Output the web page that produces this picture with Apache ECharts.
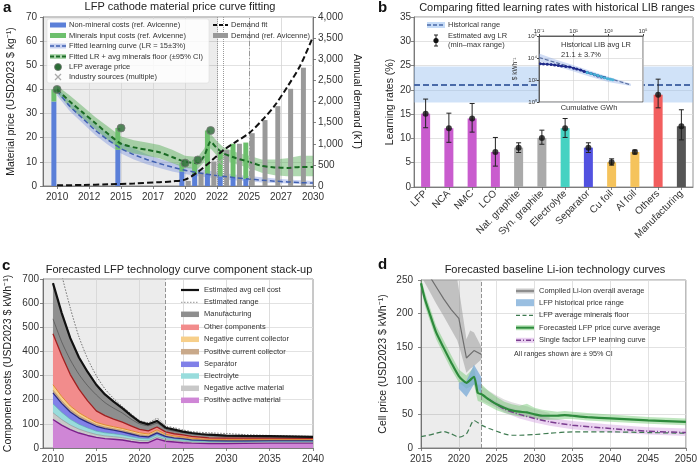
<!DOCTYPE html>
<html><head><meta charset="utf-8">
<script src="https://cdn.jsdelivr.net/npm/echarts@6/dist/echarts.min.js"></script>
<style>html,body{margin:0;padding:0;background:#fff}#c{width:700px;height:464px}</style>
</head><body><div id="c"></div>
<script>
// ================= Panel a =================
const aTicks = [2010, 2012.5, 2015, 2017.5, 2020, 2022.5, 2025, 2027.5, 2030];
const aBarYears = [2010, 2015, 2020, 2021, 2022, 2023, 2024, 2025];
const aNonMineral = [35, 15, 6, 5, 5, 4, 3.5, 3];
const aMinerals = [5, 9, 3.5, 5.8, 18, 10, 14, 15];
const aDemandYears = [2020, 2021, 2022, 2023, 2024, 2025, 2026, 2027, 2028, 2029];
const aDemand = [120, 320, 580, 850, 1000, 1250, 1560, 1890, 2300, 2800];
const aFitYears = [2010, 2011, 2012, 2013, 2014, 2015, 2016, 2017, 2018, 2019, 2020, 2021, 2021.5, 2022, 2022.5, 2023, 2024, 2025, 2026, 2027, 2028, 2029, 2030];
const aBlueFit = [39.5, 33, 28, 23, 19, 15.5, 13, 11, 9.3, 7.8, 6.5, 5.5, 5.1, 4.7, 4.3, 4, 3.4, 2.9, 2.4, 2.0, 1.7, 1.4, 1.2];
const aBlueHi = [41, 35, 30, 25.5, 21.5, 18, 15.5, 13.2, 11.3, 9.6, 8.2, 7, 6.6, 6.2, 5.8, 5.4, 4.7, 4.1, 3.6, 3.1, 2.7, 2.4, 2.1];
const aBlueLo = [37.5, 31, 26, 21, 17, 13.5, 11, 9, 7.5, 6, 5, 4, 3.7, 3.4, 3.1, 2.8, 2.3, 1.9, 1.5, 1.2, 1.0, 0.8, 0.6];
const aGreenFit = [40, 35, 30.5, 26, 21.5, 17.5, 16, 15, 14, 12, 10, 9.4, 12.5, 18.4, 15.6, 13.5, 11.5, 10, 8.3, 7.7, 7.5, 7.9, 7.9];
const aGreenHi = [41.5, 37.5, 33, 28.5, 24.5, 20.5, 19, 18, 17, 15, 12.5, 12, 15.5, 21.5, 18.5, 16, 14, 12.5, 11, 11, 11.5, 12.5, 12.5];
const aGreenLo = [38.5, 32.5, 28, 23.5, 19, 15, 13.5, 12.5, 11.5, 9.5, 7.5, 7, 10, 15.5, 12.5, 11, 9, 7.5, 5.5, 4.5, 4, 4, 4];
const aDemandFitYears = [2010, 2012, 2014, 2016, 2018, 2019, 2020, 2021, 2022, 2023, 2024, 2025, 2026, 2027, 2028, 2029, 2030];
const aDemandFit = [15, 25, 40, 60, 90, 110, 150, 330, 580, 850, 1050, 1250, 1550, 1900, 2350, 2850, 3530];
const aPriceYears = [2010, 2015, 2020, 2021, 2022];
const aPrice = [40, 24, 9.5, 10.8, 23];
const aIndustryYears = [2022.7];
const aIndustry = [10];

// ================= Panel b =================
const bCats = ['LFP', 'NCA', 'NMC', 'LCO', 'Nat. graphite', 'Syn. graphite', 'Electrolyte', 'Separator', 'Cu foil', 'Al foil', 'Others', 'Manufacturing'];
const bAvg = [15.1, 12.1, 14.1, 7.2, 8.1, 10.1, 12.1, 8.1, 5.1, 7.2, 19.0, 12.5];
const bMin = [12.2, 9.2, 11.3, 4.3, 7.1, 8.8, 10.2, 7.1, 4.5, 6.8, 16.3, 9.7];
const bMax = [18.1, 15.2, 17.2, 10.2, 9.1, 11.7, 14.1, 9.1, 5.8, 7.6, 22.2, 15.9];
const bHistAvg = 21.1, bHistLow = 17.4, bHistHigh = 24.8;
// inset (log-log)
const insNavyGWh = [0.12, 0.18, 0.3, 0.5, 0.8, 1.3, 2, 3.5, 6, 10, 15, 25, 40, 60, 100, 160, 250, 400, 600];
const insNavyPrice = [3000, 2900, 2700, 2500, 2300, 2100, 1900, 1700, 1500, 1200, 1000, 800, 600, 480, 380, 300, 230, 190, 170];
const insCyanGWh = [60, 100, 160, 250, 400, 600, 900, 1300, 1800];
const insCyanPrice = [470, 380, 310, 250, 200, 160, 130, 115, 105];
const insFitGWh = [0.1, 20000];
const insFitPrice = [11000, 36];
const insBandGWh = [0.1, 1, 10, 100, 1000, 20000];
const insBandHi = [25000, 7000, 2200, 650, 200, 45];
const insBandLo = [5000, 1800, 600, 190, 65, 28];

// ================= Panel c =================
const cTicks = [2010, 2015, 2020, 2025, 2030, 2035, 2040];
const cYears = [2010, 2011, 2012, 2013, 2014, 2015, 2016, 2017, 2018, 2019, 2020, 2021, 2022, 2023, 2024, 2025, 2026, 2027, 2028, 2030, 2032, 2035, 2040];
const cPAM   = [118, 95, 76, 62, 52, 44, 39, 36, 33, 27, 22, 22, 38, 28, 25, 22, 20, 19, 18, 18, 19, 20, 20];
const cNAM   = [28, 23, 19, 16, 14, 12, 11, 11, 10, 10, 9, 8, 8, 7, 6, 6, 5, 5, 5, 5, 4, 4, 4];
const cElec  = [37, 30, 24, 20, 17, 14, 13, 12, 11, 10, 9, 8, 9, 7, 6, 6, 5, 5, 4, 4, 4, 4, 4];
const cSep   = [45, 37, 30, 26, 23, 20, 17, 15, 13, 11, 9, 8, 8, 6, 5, 5, 4, 4, 4, 3, 3, 3, 3];
const cPCC   = [12, 11, 10, 9, 8, 7, 7, 6, 6, 6, 6, 5, 5, 4, 3, 3, 3, 2, 2, 2, 2, 2, 2];
const cNCC   = [22, 18, 15, 13, 11, 9, 9, 8, 8, 8, 8, 7, 7, 5, 5, 4, 4, 3, 3, 3, 3, 3, 3];
const cOther = [211, 170, 130, 98, 70, 48, 38, 32, 26, 20, 14, 13, 12, 10, 9, 8, 7, 7, 6, 6, 6, 5, 4];
const cMfg   = [210, 176, 151, 131, 120, 108, 88, 72, 58, 43, 31, 27, 25, 17, 17, 14, 14, 13, 13, 10, 9, 8, 6];
const cRangeHi = [900, 720, 580, 460, 370, 300, 245, 205, 172, 142, 114, 105, 122, 92, 84, 75, 68, 65, 63, 60, 56, 52, 48];
const cRangeLo = [535, 440, 365, 305, 258, 220, 188, 165, 145, 120, 100, 92, 102, 78, 70, 64, 58, 55, 52, 48, 47, 46, 44];

// ================= Panel d =================
const dGrayYears = [2016, 2017, 2018, 2019, 2020, 2021, 2022, 2023];
const dGray = [258, 240, 222, 206, 193, 134, 145, 139];
const dGrayBandYears = [2015.3, 2016, 2017, 2018, 2019, 2019.8, 2020.2, 2021, 2021.5, 2022, 2023];
const dGrayBandHi = [250, 250, 250, 250, 250, 250, 222, 162, 175, 172, 150];
const dGrayBandLo = [250, 236, 215, 196, 176, 160, 145, 112, 118, 122, 132];
const dGrayFcYears = [2023, 2024, 2025, 2026, 2027, 2028, 2029, 2030, 2031, 2032];
const dGrayFcHi = [92, 85, 78, 72, 68, 65, 62, 58, 55, 52];
const dGrayFcLo = [70, 65, 60, 55, 51, 48, 46, 44, 43, 42];
const dBlueYears = [2020, 2021, 2022, 2023];
const dBlueHi = [97, 100, 124, 105];
const dBlueLo = [88, 76, 95, 80];
const dFloorYears = [2015, 2016, 2017, 2018, 2019, 2020, 2021, 2022, 2023, 2024, 2025, 2026, 2027, 2028, 2030, 2032, 2035, 2040, 2045, 2050];
const dFloor = [17, 19, 22, 24.5, 21, 16, 21, 41, 34, 29, 25, 21, 19, 19, 20, 22, 24, 24, 23, 22];
const dGreenYears = [2015, 2015.5, 2016, 2017, 2018, 2019, 2020, 2021, 2022, 2022.5, 2023, 2024, 2025, 2026, 2027, 2028, 2029, 2030, 2031, 2033, 2034, 2035, 2037, 2040, 2045, 2050];
const dGreen   = [245, 222, 205, 172, 149, 127, 107, 97, 106, 82, 80, 72, 65, 60, 56, 54, 53, 50, 48, 48, 49, 48, 46, 44, 41, 39];
const dGreenHi = [252, 232, 215, 182, 160, 138, 117, 108, 120, 94, 95, 84, 76, 69, 65, 63, 66, 60, 57, 54, 55, 54, 52, 50, 46, 44];
const dGreenLo = [238, 212, 195, 162, 139, 117, 98, 88, 94, 70, 68, 62, 56, 52, 49, 47, 46, 44, 42, 42, 43, 43, 41, 39, 36, 34];
const dPurpleYears = [2024, 2026, 2028, 2030, 2032, 2035, 2040, 2045, 2050];
const dPurple   = [72, 58, 50, 44, 39, 34, 29, 25, 23];
const dPurpleHi = [76, 63, 56, 50, 45, 40, 35, 31, 29];
const dPurpleLo = [68, 53, 44, 38, 33, 28, 23, 20, 18];

// ================= helpers =================
const FONT = '"Liberation Sans", Arial, sans-serif';
const zip = (xs, ys) => xs.map((x, i) => [x, ys[i]]);
const SUP = {'-':'⁻','0':'⁰','1':'¹','2':'²','3':'³','4':'⁴','5':'⁵','6':'⁶','7':'⁷','8':'⁸','9':'⁹'};
const pow10 = v => '10' + String(Math.round(Math.log10(v))).split('').map(c => SUP[c]).join('');

function band(xi, yi, xs, lo, hi, fill, z) {
  return {
    type: 'custom', xAxisIndex: xi, yAxisIndex: yi, z: z || 2, silent: true, clip: true,
    data: [[xs[0], lo[0]]],
    renderItem: (p, api) => {
      const pts = [];
      xs.forEach((x, i) => pts.push(api.coord([x, hi[i]])));
      for (let i = xs.length - 1; i >= 0; i--) pts.push(api.coord([xs[i], lo[i]]));
      return { type: 'polygon', shape: { points: pts }, style: { fill: fill } };
    }
  };
}
function host(xi, yi, x0, y0, extra) {
  return Object.assign({
    type: 'line', xAxisIndex: xi, yAxisIndex: yi, data: [[x0, y0]], symbol: 'none',
    lineStyle: { opacity: 0 }, silent: true, z: 1
  }, extra);
}
const vgrid = vals => ({
  silent: true, symbol: 'none', z: 1, label: { show: false },
  lineStyle: { color: '#d4d4d4', width: 0.8, type: 'solid' },
  data: vals.map(v => ({ xAxis: v }))
});
const axLine = { show: true, lineStyle: { color: '#666', width: 0.8 } };
const axTick = { show: true, length: 3, lineStyle: { color: '#666', width: 0.8 } };
const lbl = (extra) => Object.assign({ fontSize: 10, color: '#333', fontFamily: FONT }, extra);
const split = { show: true, lineStyle: { color: '#dadada', width: 0.8 } };
const nameStyle = { fontSize: 10.5, color: '#222', fontFamily: FONT };

// graphic helpers
const G = [];
const gText = (x, y, text, size, opt) => G.push(Object.assign({ type: 'text', x: x, y: y, z: 100,
  style: Object.assign({ text: text, font: (size || 7.5) + 'px ' + FONT, fill: '#333', textVerticalAlign: 'middle', textAlign: 'left' }, (opt || {})) }));
const gRect = (x, y, w, h, fill, stroke) => G.push({ type: 'rect', z: 99, shape: { x: x, y: y - h / 2, width: w, height: h },
  style: { fill: fill, stroke: stroke || null, lineWidth: stroke ? 0.6 : 0 } });
const gSeg = (x1, y1, x2, y2, stroke, w, dash) => G.push({ type: 'line', z: 100, shape: { x1: x1, y1: y1, x2: x2, y2: y2 },
  style: { stroke: stroke, lineWidth: w, lineDash: dash || null } });
const gLine = (x1, x2, y, stroke, w, dash) => gSeg(x1, y, x2, y, stroke, w, dash);

// panel letters & titles
gText(3, 8, 'a', 15, { font: 'bold 15px ' + FONT, fill: '#111' });
gText(378, 8, 'b', 15, { font: 'bold 15px ' + FONT, fill: '#111' });
gText(2, 266, 'c', 15, { font: 'bold 15px ' + FONT, fill: '#111' });
gText(378, 265, 'd', 15, { font: 'bold 15px ' + FONT, fill: '#111' });
gText(180, 7, 'LFP cathode material price curve fitting', 11, { textAlign: 'center', fill: '#222' });
gText(557, 8, 'Comparing fitted learning rates with historical LIB ranges', 11, { textAlign: 'center', fill: '#222' });
gText(179, 270, 'Forecasted LFP technology curve component stack-up', 11, { textAlign: 'center', fill: '#222' });
gText(555, 270, 'Forecasted baseline Li-ion technology curves', 11, { textAlign: 'center', fill: '#222' });

// legend a
G.push({ type: 'rect', z: 98, shape: { x: 47, y: 19, width: 162, height: 64, r: 2 }, style: { fill: 'rgba(255,255,255,0.82)', stroke: '#ddd', lineWidth: 0.6 } });
const aRows = [25, 35.5, 46, 56.5, 67, 77];
gRect(50, aRows[0], 16, 5, '#5a7fd8'); gText(69, aRows[0], 'Non-mineral costs (ref. Avicenne)');
gRect(50, aRows[1], 16, 5, '#6cbf6c'); gText(69, aRows[1], 'Minerals input costs (ref. Avicenne)');
gRect(50, aRows[2], 16, 5, 'rgba(100,130,220,0.35)'); gLine(50, 66, aRows[2], '#3f5fb0', 1.5, [4, 2]); gText(69, aRows[2], 'Fitted learning curve (LR = 15±3%)');
gRect(50, aRows[3], 16, 5, 'rgba(80,170,80,0.45)'); gLine(50, 66, aRows[3], '#1a6b24', 2, [4, 2]); gText(69, aRows[3], 'Fitted LR + avg minerals floor (±95% CI)');
G.push({ type: 'circle', z: 100, shape: { cx: 58, cy: aRows[4], r: 3.5 }, style: { fill: '#2a6b34', stroke: '#777', lineWidth: 0.8 } }); gText(69, aRows[4], 'LFP average price');
gSeg(55, 74, 61, 80, '#aaa', 1.3); gSeg(61, 74, 55, 80, '#aaa', 1.3); gText(69, aRows[5], 'Industry sources (multiple)');
gLine(213, 228, 25, '#111', 2, [4, 2]); gText(231, 25, 'Demand fit');
gRect(213, 35.5, 15, 5, '#999'); gText(231, 35.5, 'Demand (ref. Avicenne)');

// legend b
gRect(427, 25, 18, 6, 'rgba(150,190,240,0.55)'); gLine(427, 445, 25, '#4a6aa8', 1.6, [4, 2]); gText(448, 25, 'Historical range');
gSeg(436, 35, 436, 46, '#222', 1);
gLine(434, 438, 35, '#222', 1); gLine(434, 438, 46, '#222', 1);
G.push({ type: 'circle', z: 100, shape: { cx: 436, cy: 40.5, r: 2.6 }, style: { fill: '#111' } });
gText(448, 36, 'Estimated avg LR'); gText(448, 45, '(min–max range)');
// inset texts
gText(561, 45, 'Historical LIB avg LR', 7.5);
gText(561, 55, '21.1 ± 3.7%', 7.5);
gText(589, 108, 'Cumulative GWh', 7.5, { textAlign: 'center' });

// legend c
const cRows = [290, 302.3, 314.3, 327.3, 339.3, 351.7, 364.3, 376, 388.3, 400.3];
const cLegend = [
  ['Estimated avg cell cost', null], ['Estimated range', null], ['Manufacturing', '#8e8e8e'], ['Other components', '#f28c8c'],
  ['Negative current collector', '#f7cf8a'], ['Positive current collector', '#c9a98a'], ['Separator', '#8080e8'],
  ['Electrolyte', '#98dcdc'], ['Negative active material', '#c8c8c8'], ['Positive active material', '#cf86d6']
];
cLegend.forEach((it, i) => {
  if (i === 0) gLine(181, 199, cRows[i], '#111', 2.2);
  else if (i === 1) gLine(181, 199, cRows[i], '#777', 0.8, [1.5, 1.5]);
  else gRect(181, cRows[i], 18, 5.5, it[1]);
  gText(204, cRows[i], it[0]);
});

// legend d
const dRows = [291, 302.7, 315.3, 327.7, 340.3];
gRect(516, dRows[0], 18, 5, 'rgba(150,150,150,0.5)'); gLine(516, 534, dRows[0], '#6e6e6e', 1.3); gText(539, dRows[0], 'Compiled Li-ion overall average');
gRect(516, dRows[1], 18, 7, 'rgba(120,170,215,0.75)'); gText(539, dRows[1], 'LFP historical price range');
gLine(516, 534, dRows[2], '#3e7a50', 1.2, [4, 2.5]); gText(539, dRows[2], 'LFP average minerals floor');
gRect(516, dRows[3], 18, 5, 'rgba(110,200,110,0.5)'); gLine(516, 534, dRows[3], '#2d8a3c', 2); gText(539, dRows[3], 'Forecasted LFP price curve average');
gRect(516, dRows[4], 18, 5, 'rgba(210,160,225,0.5)'); gLine(516, 534, dRows[4], '#7a3d8f', 1.4, [5, 2, 1, 2]); gText(539, dRows[4], 'Single factor LFP learning curve');
gText(514, 354, 'All ranges shown are ± 95% CI', 7.2);

const bColors = ['#c95cce', '#c95cce', '#c95cce', '#c95cce', '#aaaaaa', '#aaaaaa', '#45d2c2', '#5252e0', '#f5c35c', '#f5c35c', '#f25e5e', '#555555'];

// panel c layers (bottom -> top): cumulative stack built from the named arrays
const cLayerDefs = [
  [cPAM, '#cf86d6', '#7a1f8a', 1.4], [cNAM, '#c8c8c8', '#8a8a8a', 0.6], [cElec, '#98dcdc', '#4aa8a8', 0.6],
  [cSep, '#8080e8', '#2a2a80', 1.3], [cPCC, '#c9a98a', '#a08060', 0.6], [cNCC, '#f7cf8a', '#e08a30', 1.0],
  [cOther, '#f28c8c', '#a02020', 1.3], [cMfg, '#8e8e8e', '#111', 2.2]
];
const cSeries = [];
let cCum = cYears.map(() => 0);
cLayerDefs.forEach((L, k) => {
  const lo = cCum, hi = lo.map((v, i) => v + L[0][i]);
  cSeries.push(band(3, 4, cYears, lo, hi, L[1], 3));
  cSeries.push({ type: 'line', xAxisIndex: 3, yAxisIndex: 4, z: 4 + (k === 7 ? 1 : 0), symbol: 'none', silent: true,
    lineStyle: { color: L[2], width: L[3] }, data: zip(cYears, hi) });
  cCum = hi;
});

const option = {
  animation: false,
  textStyle: { fontFamily: FONT },
  grid: [
    { left: 43, top: 17, width: 270, height: 169, show: true, backgroundColor: '#fff', borderColor: '#777', borderWidth: 0.8 },
    { left: 414, top: 17, width: 279, height: 170, show: true, backgroundColor: '#fff', borderColor: '#777', borderWidth: 0.8 },
    { left: 539, top: 36, width: 104, height: 66, show: true, backgroundColor: '#fff', borderColor: '#444', borderWidth: 0.8, z: 10 },
    { left: 43, top: 279, width: 270, height: 169, show: true, backgroundColor: '#fff', borderColor: '#777', borderWidth: 0.8 },
    { left: 421, top: 280, width: 267, height: 169, show: true, backgroundColor: '#fff', borderColor: '#777', borderWidth: 0.8 }
  ],
  xAxis: [
    { type: 'value', gridIndex: 0, min: 2008.9, max: 2030, axisLine: axLine,
      axisTick: Object.assign({ customValues: aTicks }, axTick),
      axisLabel: lbl({ customValues: aTicks, margin: 6, formatter: v => String(Math.floor(v)) }), splitLine: { show: false } },
    { type: 'category', gridIndex: 1, data: bCats, axisLine: axLine, axisTick: Object.assign({ alignWithLabel: true }, axTick),
      axisLabel: lbl({ rotate: 45, interval: 0, margin: 5 }), splitLine: { show: false } },
    { type: 'log', logBase: 10, gridIndex: 2, min: 0.1, max: 100000, interval: 2, position: 'top', z: 11,
      axisLine: { show: true, lineStyle: { color: '#444', width: 0.8 } }, axisTick: { show: true, length: 2, lineStyle: { color: '#444' } },
      axisLabel: lbl({ fontSize: 6, margin: 2, formatter: pow10 }), splitLine: { show: true, lineStyle: { color: '#d0d0d0', width: 0.6 } } },
    { type: 'value', gridIndex: 3, min: 2008.85, max: 2040, axisLine: axLine,
      axisTick: Object.assign({ customValues: cTicks }, axTick),
      axisLabel: lbl({ customValues: cTicks, margin: 6, formatter: v => String(v) }), splitLine: { show: false } },
    { type: 'value', gridIndex: 4, min: 2015, max: 2050, interval: 5, axisLine: axLine, axisTick: axTick,
      axisLabel: lbl({ margin: 6, formatter: v => String(v) }), splitLine: split }
  ],
  yAxis: [
    { type: 'value', gridIndex: 0, min: 0, max: 70, interval: 10, axisLine: axLine, axisTick: axTick,
      axisLabel: lbl({ margin: 6 }), splitLine: split,
      name: 'Material price (USD2023 $ kg⁻¹)', nameLocation: 'middle', nameGap: 26, nameTextStyle: nameStyle },
    { type: 'value', gridIndex: 0, position: 'right', min: 0, max: 4000, interval: 500, axisLine: axLine, axisTick: axTick,
      axisLabel: lbl({ margin: 5, formatter: v => v.toLocaleString('en-US') }), splitLine: { show: false },
      name: 'Annual demand (kT)', nameLocation: 'middle', nameRotate: -90, nameGap: 38, nameTextStyle: nameStyle },
    { type: 'value', gridIndex: 1, min: 0, max: 35, interval: 5, axisLine: axLine, axisTick: axTick,
      axisLabel: lbl({ margin: 3 }), splitLine: split,
      name: 'Learning rates (%)', nameLocation: 'middle', nameGap: 16, nameTextStyle: nameStyle },
    { type: 'log', logBase: 10, gridIndex: 2, min: 1, max: 1000000, interval: 2, z: 11,
      axisLine: { show: true, lineStyle: { color: '#444', width: 0.8 } }, axisTick: { show: true, length: 2, lineStyle: { color: '#444' } },
      axisLabel: lbl({ fontSize: 6, margin: 2, formatter: pow10 }), splitLine: { show: true, lineStyle: { color: '#d0d0d0', width: 0.6 } },
      name: '$ kWh⁻¹', nameLocation: 'middle', nameGap: 20, nameTextStyle: { fontSize: 6.5, color: '#333', fontFamily: FONT } },
    { type: 'value', gridIndex: 3, min: 0, max: 700, interval: 100, axisLine: axLine, axisTick: axTick,
      axisLabel: lbl({ margin: 4 }), splitLine: split,
      name: 'Component costs (USD2023 $ kWh⁻¹)', nameLocation: 'middle', nameGap: 29, nameTextStyle: nameStyle },
    { type: 'value', gridIndex: 4, min: 0, max: 250, interval: 50, axisLine: axLine, axisTick: axTick,
      axisLabel: lbl({ margin: 8 }), splitLine: split,
      name: 'Cell price (USD2023 $ kWh⁻¹)', nameLocation: 'middle', nameGap: 32, nameTextStyle: nameStyle }
  ],
  graphic: G,
  series: [
    // ---------- a ----------
    host(0, 0, 2030, 0, {
      markArea: { silent: true, z: 1, itemStyle: { color: 'rgba(0,0,0,0.075)' }, data: [[{ xAxis: 2008.9 }, { xAxis: 2022.55 }]] },
      markLine: vgrid(aTicks.slice(1, -1))
    }),
    host(0, 0, 2030, 0, {
      z: 5,
      markLine: { silent: true, symbol: 'none', z: 5, label: { show: false },
        data: [
          { xAxis: 2022.55, lineStyle: { color: '#999', type: 'dotted', width: 1 } },
          { xAxis: 2023.0, lineStyle: { color: '#999', type: 'dotted', width: 1 } },
          { xAxis: 2025.05, lineStyle: { color: '#999', type: [5, 2, 1, 2], width: 1 } }
        ] }
    }),
    band(0, 0, aFitYears, aBlueLo, aBlueHi, 'rgba(100,130,220,0.35)', 2),
    band(0, 0, aFitYears, aGreenLo, aGreenHi, 'rgba(80,170,80,0.45)', 2),
    // stacked price bars (non-mineral bottom, minerals on top), drawn left of the year
    { type: 'custom', xAxisIndex: 0, yAxisIndex: 0, z: 3, silent: true,
      data: aBarYears.map((y, i) => [y, aNonMineral[i], aMinerals[i]]), encode: { x: 0, y: 1 },
      renderItem: (p, api) => {
        const x = api.value(0), nm = api.value(1), mi = api.value(2);
        const p0 = api.coord([x, 0]), p1 = api.coord([x, nm]), p2 = api.coord([x, nm + mi]);
        const w = 5, cx = p0[0] - 3.2;
        return { type: 'group', children: [
          { type: 'rect', shape: { x: cx - w / 2, y: p1[1], width: w, height: p0[1] - p1[1] }, style: { fill: '#5a7fd8' } },
          { type: 'rect', shape: { x: cx - w / 2, y: p2[1], width: w, height: p1[1] - p2[1] }, style: { fill: '#6cbf6c' } }
        ] };
      } },
    // demand bars, right of the year
    { type: 'custom', xAxisIndex: 0, yAxisIndex: 1, z: 3, silent: true,
      data: zip(aDemandYears, aDemand), encode: { x: 0, y: 1 },
      renderItem: (p, api) => {
        const x = api.value(0), v = api.value(1);
        const p0 = api.coord([x, 0]), p1 = api.coord([x, v]);
        const w = 5, cx = p0[0] + 3.2;
        return { type: 'rect', shape: { x: cx - w / 2, y: p1[1], width: w, height: p0[1] - p1[1] }, style: { fill: '#999999' } };
      } },
    { type: 'line', xAxisIndex: 0, yAxisIndex: 0, z: 4, symbol: 'none', smooth: 0.2, lineStyle: { color: '#3f5fb0', width: 1.5, type: [5, 3] }, data: zip(aFitYears, aBlueFit) },
    { type: 'line', xAxisIndex: 0, yAxisIndex: 0, z: 4, symbol: 'none', smooth: 0.2, lineStyle: { color: '#1a6b24', width: 2, type: [5, 3] }, data: zip(aFitYears, aGreenFit) },
    { type: 'line', xAxisIndex: 0, yAxisIndex: 1, z: 5, symbol: 'none', smooth: 0.3, lineStyle: { color: '#111', width: 2, type: [6, 3] }, data: zip(aDemandFitYears, aDemandFit) },
    { type: 'scatter', xAxisIndex: 0, yAxisIndex: 0, z: 6, symbolSize: 8, itemStyle: { color: '#2a6b34', borderColor: '#777', borderWidth: 1 }, data: zip(aPriceYears, aPrice) },
    { type: 'scatter', xAxisIndex: 0, yAxisIndex: 0, z: 6, symbol: 'path://M0,0L10,10M10,0L0,10', symbolSize: 6,
      itemStyle: { color: 'rgba(0,0,0,0)', borderColor: '#aaa', borderWidth: 1.3 }, data: zip(aIndustryYears, aIndustry) },

    // ---------- b ----------
    { type: 'bar', xAxisIndex: 1, yAxisIndex: 2, barWidth: 9, z: 3,
      data: bAvg.map((v, i) => ({ value: v, itemStyle: { color: bColors[i] } })),
      markArea: { silent: true, z: 1, itemStyle: { color: 'rgba(150,190,240,0.45)' }, data: [[{ yAxis: bHistLow }, { yAxis: bHistHigh }]] },
      markLine: { silent: true, symbol: 'none', z: 2, label: { show: false }, lineStyle: { color: '#4a6aa8', width: 1.8, type: [6, 3] }, data: [{ yAxis: bHistAvg }] } },
    { type: 'custom', xAxisIndex: 1, yAxisIndex: 2, z: 5, silent: true,
      data: bMin.map((lo, i) => [i, lo, bMax[i]]), encode: { x: 0, y: [1, 2] },
      renderItem: (p, api) => {
        const i = api.value(0);
        const a = api.coord([i, api.value(1)]), b = api.coord([i, api.value(2)]);
        const st = { stroke: '#222', lineWidth: 1 };
        return { type: 'group', children: [
          { type: 'line', shape: { x1: a[0], y1: a[1], x2: b[0], y2: b[1] }, style: st },
          { type: 'line', shape: { x1: a[0] - 2.5, y1: a[1], x2: a[0] + 2.5, y2: a[1] }, style: st },
          { type: 'line', shape: { x1: b[0] - 2.5, y1: b[1], x2: b[0] + 2.5, y2: b[1] }, style: st }
        ] };
      } },
    { type: 'scatter', xAxisIndex: 1, yAxisIndex: 2, z: 6, symbolSize: 6, itemStyle: { color: '#111' }, data: bAvg },
    // inset
    band(2, 3, insBandGWh, insBandLo, insBandHi, 'rgba(140,170,230,0.4)', 12),
    { type: 'line', xAxisIndex: 2, yAxisIndex: 3, z: 13, symbol: 'none', lineStyle: { color: '#5a6fa0', width: 1.2, type: [4, 2] }, data: zip(insFitGWh, insFitPrice) },
    { type: 'line', xAxisIndex: 2, yAxisIndex: 3, z: 14, symbol: 'circle', symbolSize: 3, itemStyle: { color: '#1f2a8a' }, lineStyle: { color: '#1f2a8a', width: 1.5 }, data: zip(insNavyGWh, insNavyPrice) },
    { type: 'line', xAxisIndex: 2, yAxisIndex: 3, z: 14, symbol: 'circle', symbolSize: 3, itemStyle: { color: '#4ab4d8' }, lineStyle: { color: '#4ab4d8', width: 1.5 }, data: zip(insCyanGWh, insCyanPrice) },

    // ---------- c ----------
    host(3, 4, 2040, 0, {
      markArea: { silent: true, z: 1, itemStyle: { color: 'rgba(0,0,0,0.075)' }, data: [[{ xAxis: 2008.85 }, { xAxis: 2023 }]] },
      markLine: vgrid(cTicks.slice(1, -1))
    }),
    ...cSeries,
    { type: 'line', xAxisIndex: 3, yAxisIndex: 4, z: 4, symbol: 'none', smooth: 0.25, lineStyle: { color: '#444', width: 0.6 }, data: zip(cYears, cRangeLo) },
    { type: 'line', xAxisIndex: 3, yAxisIndex: 4, z: 4, symbol: 'none', smooth: 0.25, lineStyle: { color: '#555', width: 0.8, type: [1.5, 1.5] }, data: zip(cYears, cRangeHi) },
    host(3, 4, 2040, 0, { z: 6, markLine: { silent: true, symbol: 'none', label: { show: false }, data: [{ xAxis: 2023, lineStyle: { color: '#888', type: [4, 2], width: 0.9 } }] } }),

    // ---------- d ----------
    host(4, 5, 2050, 0, {
      markArea: { silent: true, z: 1, itemStyle: { color: 'rgba(0,0,0,0.075)' }, data: [[{ xAxis: 2015 }, { xAxis: 2023 }]] },
      markLine: { silent: true, symbol: 'none', z: 5, label: { show: false }, data: [{ xAxis: 2023, lineStyle: { color: '#888', type: [4, 2], width: 0.9 } }] }
    }),
    band(4, 5, dGrayBandYears, dGrayBandLo, dGrayBandHi, 'rgba(150,150,150,0.5)', 2),
    band(4, 5, dGrayFcYears, dGrayFcLo, dGrayFcHi, 'rgba(150,150,150,0.3)', 2),
    band(4, 5, dPurpleYears, dPurpleLo, dPurpleHi, 'rgba(210,160,225,0.45)', 2),
    band(4, 5, dGreenYears, dGreenLo, dGreenHi, 'rgba(110,200,110,0.45)', 2),
    band(4, 5, dBlueYears, dBlueLo, dBlueHi, 'rgba(120,170,215,0.75)', 3),
    { type: 'line', xAxisIndex: 4, yAxisIndex: 5, z: 4, symbol: 'none', lineStyle: { color: '#6e6e6e', width: 1.2 }, data: zip(dGrayYears, dGray) },
    { type: 'line', xAxisIndex: 4, yAxisIndex: 5, z: 4, symbol: 'none', smooth: 0.2, lineStyle: { color: '#3e7a50', width: 1.2, type: [5, 3] }, data: zip(dFloorYears, dFloor) },
    { type: 'line', xAxisIndex: 4, yAxisIndex: 5, z: 5, symbol: 'none', smooth: 0.2, lineStyle: { color: '#7a3d8f', width: 1.5, type: [6, 2, 1, 2] }, data: zip(dPurpleYears, dPurple) },
    { type: 'line', xAxisIndex: 4, yAxisIndex: 5, z: 6, symbol: 'none', smooth: 0.2, lineStyle: { color: '#2d8a3c', width: 2.2 }, data: zip(dGreenYears, dGreen) }
  ]
};
const chart = echarts.init(document.getElementById('c'), null, { renderer: 'canvas', width: 700, height: 464 });
chart.setOption(option);
</script></body></html>
